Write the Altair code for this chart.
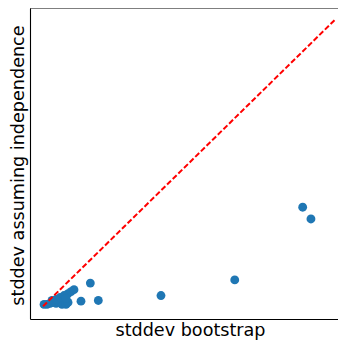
import altair as alt
import pandas as pd

# stddev values
boot = [0.2668, 0.2753, 0.1970, 0.1212, 0.0486, 0.0390, 0.0568,
        0.0010, 0.0041, 0.0072, 0.0103, 0.0134, 0.0164, 0.0195, 0.0236, 0.0257,
        0.0092, 0.0134, 0.0175, 0.0216, 0.0257, 0.0288, 0.0318, 0.0236]
indep = [0.1037, 0.0914, 0.0276, 0.0113, 0.0243, 0.0054, 0.0061,
         0.0020, 0.0020, 0.0031, 0.0041, 0.0031, 0.0041, 0.0020, 0.0020, 0.0041,
         0.0061, 0.0072, 0.0092, 0.0113, 0.0133, 0.0154, 0.0174, 0.0082]
line_x = [0.0, 0.3]
line_y = [0.0, 0.3]

pts = pd.DataFrame({"x": boot, "y": indep})
ln = pd.DataFrame({"x": line_x, "y": line_y})

W, H = 308, 311

xs = alt.Scale(domain=[-0.0134, 0.3031], nice=False, zero=False)
ys = alt.Scale(domain=[-0.0133, 0.3123], nice=False, zero=False)

FONT = "DejaVu Sans"
FS = 17.6

xax = alt.Axis(labels=False, ticks=False, domain=True, domainColor="black", domainWidth=1.1,
               grid=False, title="stddev bootstrap", titleFont=FONT, titleFontSize=FS,
               titleFontWeight="normal", titleColor="black",
               titleX=160, titleY=16, titleBaseline="alphabetic", titleAlign="center")
yax = alt.Axis(labels=False, ticks=False, domain=True, domainColor="black", domainWidth=1.1,
               grid=False, title="stddev assuming independence", titleFont=FONT, titleFontSize=FS,
               titleFontWeight="normal", titleColor="black",
               titleX=-7, titleY=157, titleAngle=270, titleBaseline="alphabetic", titleAlign="center")

scatter = alt.Chart(pts).mark_circle(size=78, color="#1f77b4", opacity=1, clip=True).encode(
    x=alt.X("x:Q", scale=xs, axis=xax),
    y=alt.Y("y:Q", scale=ys, axis=yax),
)
line = alt.Chart(ln).mark_line(color="red", strokeDash=[5.5, 2.4], strokeWidth=2, clip=True).encode(
    x=alt.X("x:Q", scale=xs),
    y=alt.Y("y:Q", scale=ys),
)
# top frame edge (right edge is cut off in the reference)
top = alt.Chart(pd.DataFrame({"a": [0]})).mark_rule(color="black", strokeWidth=1.1).encode(
    x=alt.value(0), x2=alt.value(W), y=alt.value(0)
)

chart = (scatter + line + top).properties(
    width=W, height=H,
    autosize=alt.AutoSizeParams(type="none"),
    padding={"left": 22, "top": 0, "right": 0, "bottom": 21},
).configure_view(stroke=None)

chart.save("out.html", embed_options={"renderer": "svg", "actions": False})
